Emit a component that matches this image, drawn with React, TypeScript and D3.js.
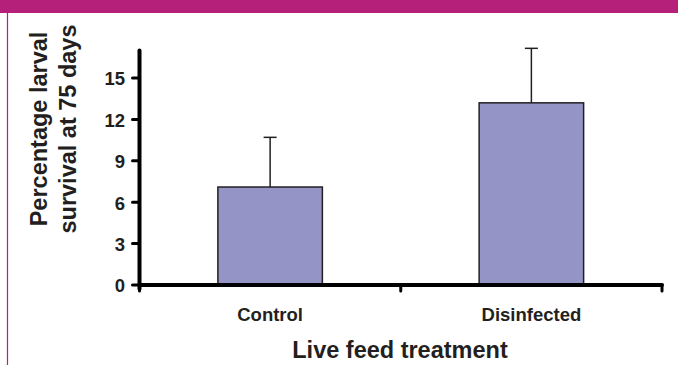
import React from "react";
import * as d3 from "d3";

const categories = ["Control", "Disinfected"];
const survival = [7.1, 13.2];
const errors = [3.6, 3.95];
const yTicks = [0, 3, 6, 9, 12, 15];
const yTitleLines = ["Percentage larval", "survival at 75 days"];
const xTitle = "Live feed treatment";

const W = 678;
const H = 365;
const FONT = "'Liberation Sans', Arial, Helvetica, sans-serif";
const INK = "#231F20";
const MAGENTA = "#B5207A";
const BAR = "#9494C7";

export default function App() {
  const x0 = 139.5;
  const x1 = 662;
  const yBase = 285;
  const y = d3.scaleLinear().domain([0, 17]).range([yBase, yBase - 17 * 13.8]);
  const x = d3.scaleBand().domain(categories).range([x0, x1]).paddingInner(0.6).paddingOuter(0.3);

  const xTickPositions = [x0, (x0 + x1) / 2, x1];

  return (
    <svg
      width={W}
      height={H}
      style={{ position: "absolute", left: 0, top: 0, background: "#fff" }}
      fontFamily={FONT}
    >
      <rect x={0} y={0} width={W} height={13} fill={MAGENTA} />
      <line x1={7.5} x2={7.5} y1={13} y2={H} stroke={MAGENTA} strokeWidth={1.2} />

      {/* bars */}
      {categories.map((c, i) => {
        const bx = x(c)!;
        const bw = x.bandwidth();
        const cx = bx + bw / 2;
        const top = y(survival[i]);
        const errTop = y(survival[i] + errors[i]);
        return (
          <g key={c}>
            <line x1={cx} x2={cx} y1={top} y2={errTop} stroke={INK} strokeWidth={1.5} />
            <line x1={cx - 6.5} x2={cx + 6.5} y1={errTop} y2={errTop} stroke={INK} strokeWidth={1.5} />
            <rect x={bx} y={top} width={bw} height={yBase - top} fill={BAR} stroke={INK} strokeWidth={1.5} />
          </g>
        );
      })}

      {/* y axis */}
      <line x1={x0} x2={x0} y1={y(17)} y2={yBase + 4} stroke="#000" strokeWidth={4} strokeLinecap="round" />
      {yTicks.map((t) => (
        <g key={t}>
          <line x1={x0 - 7} x2={x0} y1={y(t)} y2={y(t)} stroke="#000" strokeWidth={3} strokeLinecap="round" />
          <text
            x={125}
            y={y(t)}
            dy="0.4em"
            textAnchor="end"
            fontSize={18.5}
            fontWeight="bold"
            fill={INK}
          >
            {t}
          </text>
        </g>
      ))}

      {/* x axis */}
      <line x1={x0} x2={x1} y1={yBase} y2={yBase} stroke="#000" strokeWidth={4} strokeLinecap="round" />
      {xTickPositions.map((p, i) => (
        <line key={i} x1={p} x2={p} y1={yBase} y2={yBase + 6} stroke="#000" strokeWidth={3} strokeLinecap="round" />
      ))}

      {categories.map((c) => (
        <text
          key={c}
          x={x(c)! + x.bandwidth() / 2}
          y={321}
          textAnchor="middle"
          fontSize={18.5}
          fontWeight="bold"
          fill={INK}
        >
          {c}
        </text>
      ))}

      <text x={400} y={358} textAnchor="middle" fontSize={23.5} fontWeight="bold" fill={INK}>
        {xTitle}
      </text>

      {yTitleLines.map((line, i) => (
        <text
          key={line}
          transform={`translate(${47 + i * 29},129) rotate(-90)`}
          textAnchor="middle"
          fontSize={23.5}
          fontWeight="bold"
          fill={INK}
        >
          {line}
        </text>
      ))}
    </svg>
  );
}
